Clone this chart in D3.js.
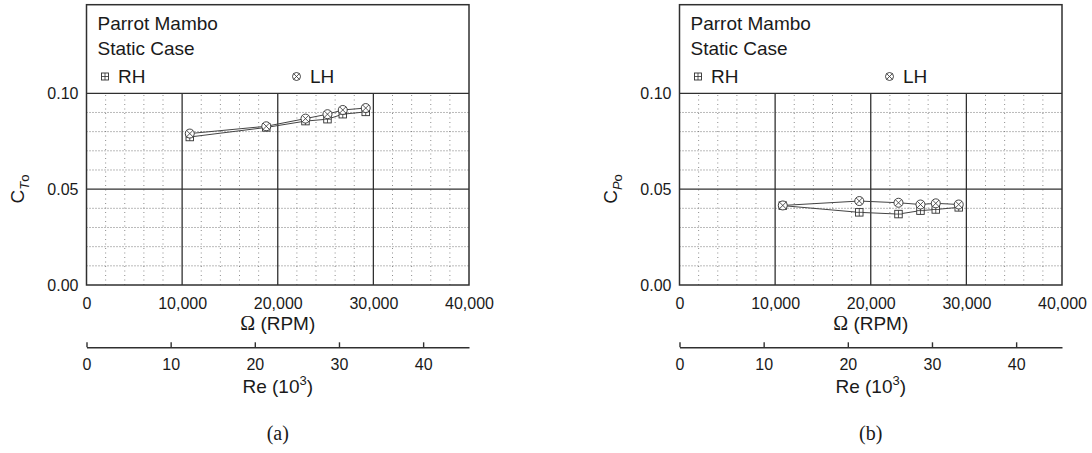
<!DOCTYPE html>
<html><head><meta charset="utf-8">
<script src="https://cdn.jsdelivr.net/npm/d3@7"></script>
<style>
body{margin:0;background:#fff;}
text{fill:#1a1a1a;}
</style></head>
<body><svg id="c" width="1092" height="453" font-family="Liberation Sans, Arial, sans-serif"></svg>
<script>
// ---- data ----
const rpm = [10800, 18800, 22900, 25200, 26800, 29200];
const ctRH = [0.0772, 0.0822, 0.0855, 0.0865, 0.0891, 0.0903];
const ctLH = [0.0790, 0.0828, 0.0868, 0.0891, 0.0913, 0.0923];
const cpRH = [0.0414, 0.0379, 0.0370, 0.0388, 0.0394, 0.0405];
const cpLH = [0.0415, 0.0438, 0.0429, 0.0420, 0.0426, 0.0420];
const xTicks = [0, 10000, 20000, 30000, 40000];
const yTicks = [0, 0.05, 0.10];
const reTicks = [0, 10, 20, 30, 40];
const legendTitle = ["Parrot Mambo", "Static Case"];
const seriesNames = ["RH", "LH"];
const panelsMeta = [
  {sub: "T", rh: ctRH, lh: ctLH, caption: "(a)"},
  {sub: "P", rh: cpRH, lh: cpLH, caption: "(b)"}
];

// ---- layout ----
const svg = d3.select("#c");
const offsets = [86.5, 679.5];
const W = 382.5, yBot = 285, yTopData = 93.3, frameTop = 4.7;
const dark = "#303030";
const SANS = "Liberation Sans, Arial, sans-serif";
const SERIF = "Liberation Serif, DejaVu Serif, serif";

function square(g, cx, cy, s){
  const h = s/2;
  g.append("rect").attr("x", cx-h).attr("y", cy-h).attr("width", s).attr("height", s)
    .attr("fill", "#fff").attr("stroke", dark).attr("stroke-width", 0.9);
  g.append("line").attr("x1", cx-h).attr("x2", cx+h).attr("y1", cy).attr("y2", cy).attr("stroke", dark).attr("stroke-width", 0.8);
  g.append("line").attr("x1", cx).attr("x2", cx).attr("y1", cy-h).attr("y2", cy+h).attr("stroke", dark).attr("stroke-width", 0.8);
}
function otimes(g, cx, cy, r){
  g.append("circle").attr("cx", cx).attr("cy", cy).attr("r", r)
    .attr("fill", "#fff").attr("stroke", dark).attr("stroke-width", 0.9);
  const k = r*0.707;
  g.append("line").attr("x1", cx-k).attr("x2", cx+k).attr("y1", cy-k).attr("y2", cy+k).attr("stroke", dark).attr("stroke-width", 0.8);
  g.append("line").attr("x1", cx-k).attr("x2", cx+k).attr("y1", cy+k).attr("y2", cy-k).attr("stroke", dark).attr("stroke-width", 0.8);
}

panelsMeta.forEach((p, i) => {
  const g = svg.append("g").attr("transform", `translate(${offsets[i]},0)`);
  const x = d3.scaleLinear().domain([0, 40000]).range([0, W]);
  const y = d3.scaleLinear().domain([0, 0.10]).range([yBot, yTopData]);
  const re = d3.scaleLinear().domain([0, 45.45]).range([0, W]);

  // minor grid
  const minorX = d3.range(2000, 40000, 2000).filter(v => v % 10000 !== 0);
  const minorY = d3.range(1, 10).map(v => v/100).filter(v => Math.abs(v-0.05) > 1e-9);
  g.selectAll(".mx").data(minorX).join("line")
    .attr("x1", d => x(d)).attr("x2", d => x(d)).attr("y1", y(0)).attr("y2", y(0.10))
    .attr("stroke", "#808080").attr("stroke-width", 0.9).attr("stroke-dasharray", "1,3.5");
  g.selectAll(".my").data(minorY).join("line")
    .attr("x1", 0).attr("x2", W).attr("y1", d => y(d)).attr("y2", d => y(d))
    .attr("stroke", "#666").attr("stroke-width", 0.9).attr("stroke-dasharray", "1,2");
  // major grid
  g.selectAll(".Mx").data([10000, 20000, 30000]).join("line")
    .attr("x1", d => x(d)).attr("x2", d => x(d)).attr("y1", y(0)).attr("y2", y(0.10))
    .attr("stroke", dark).attr("stroke-width", 1.3);
  g.selectAll(".My").data([0.05, 0.10]).join("line")
    .attr("x1", 0).attr("x2", W).attr("y1", d => y(d)).attr("y2", d => y(d))
    .attr("stroke", dark).attr("stroke-width", 1.3);
  // frame
  g.append("rect").attr("x", 0).attr("y", frameTop).attr("width", W).attr("height", yBot - frameTop)
    .attr("fill", "none").attr("stroke", dark).attr("stroke-width", 1.5);

  // axes labels
  const ya = g.append("g").call(d3.axisLeft(y).tickValues(yTicks).tickFormat(d3.format(".2f")).tickSize(0).tickPadding(8));
  ya.select(".domain").remove();
  ya.selectAll("text").attr("font-size", 16).style("font-family", SANS).attr("fill", "#1a1a1a");
  ya.attr("font-family", null);
  const xa = g.append("g").attr("transform", `translate(0,${yBot})`)
    .call(d3.axisBottom(x).tickValues(xTicks).tickFormat(d3.format(",")).tickSize(0).tickPadding(12.5));
  xa.select(".domain").remove();
  xa.selectAll("text").attr("font-size", 16).style("font-family", SANS).attr("fill", "#1a1a1a");

  g.append("text").attr("x", W/2).attr("y", 330).attr("text-anchor", "middle").attr("font-size", 19)
    .style("font-family", SANS)
    .call(t => {
      t.append("tspan").style("font-family", SERIF).attr("font-size", 20).text("Ω");
      t.append("tspan").text(" (RPM)");
    });

  // Re axis
  const ra = g.append("g").attr("transform", "translate(0,347.3)")
    .call(d3.axisBottom(re).tickValues(reTicks).tickSize(-5).tickSizeOuter(0).tickPadding(11));
  ra.select(".domain").attr("stroke", dark).attr("stroke-width", 1.4);
  ra.selectAll(".tick line").attr("stroke", dark).attr("stroke-width", 1.4);
  ra.selectAll("text").attr("font-size", 16).style("font-family", SANS).attr("fill", "#1a1a1a");

  g.append("text").attr("x", W/2).attr("y", 393).attr("text-anchor", "middle").attr("font-size", 19)
    .style("font-family", SANS)
    .call(t => {
      t.append("tspan").text("Re (10");
      t.append("tspan").attr("font-size", 13).attr("dy", -8).text("3");
      t.append("tspan").attr("dy", 8).text(")");
    });

  g.append("text").attr("x", W/2).attr("y", 440).attr("text-anchor", "middle").attr("font-size", 20)
    .style("font-family", SERIF).text(p.caption);

  // y label
  g.append("text").attr("transform", `translate(-62.8,189) rotate(-90)`).attr("text-anchor", "middle").attr("font-size", 19)
    .style("font-family", SANS)
    .call(t => {
      t.append("tspan").text("C");
      t.append("tspan").attr("font-size", 13).attr("font-style", "italic").attr("dy", 5).text(p.sub);
      t.append("tspan").attr("font-size", 13).text("o");
    });

  // legend
  legendTitle.forEach((s, k) => {
    g.append("text").attr("x", 11).attr("y", 30 + k*24.5).attr("font-size", 19).style("font-family", SANS).text(s);
  });
  square(g, 18.5, 76.5, 7);
  g.append("text").attr("x", 31.5).attr("y", 83.3).attr("font-size", 19).style("font-family", SANS).text(seriesNames[0]);
  otimes(g, 210, 76.5, 4);
  g.append("text").attr("x", 223.5).attr("y", 83.3).attr("font-size", 19).style("font-family", SANS).text(seriesNames[1]);

  // data
  const line = d3.line().x(d => x(d[0])).y(d => y(d[1]));
  const rhPts = rpm.map((r, k) => [r, p.rh[k]]);
  const lhPts = rpm.map((r, k) => [r, p.lh[k]]);
  g.append("path").attr("d", line(rhPts)).attr("fill", "none").attr("stroke", "#444").attr("stroke-width", 1);
  g.append("path").attr("d", line(lhPts)).attr("fill", "none").attr("stroke", "#444").attr("stroke-width", 1);
  const mg = g.append("g");
  rhPts.forEach(d => square(mg, x(d[0]), y(d[1]), 7.5));
  lhPts.forEach(d => otimes(mg, x(d[0]), y(d[1]), 4.5));
});
</script></body></html>
